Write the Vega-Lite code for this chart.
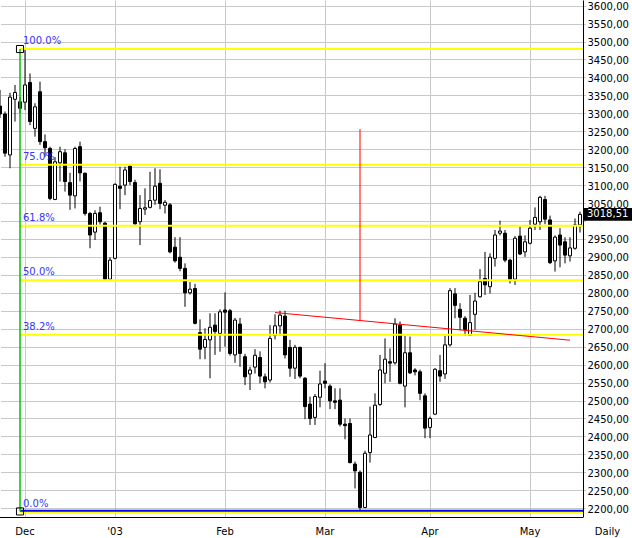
{
  "$schema": "https://vega.github.io/schema/vega-lite/v6.json",
  "width": 583,
  "height": 517,
  "autosize": {"type": "none"},
  "padding": {"left": 0, "top": 0, "right": 49, "bottom": 21},
  "background": "#ffffff",
  "config": {
    "view": {"stroke": null},
    "font": "DejaVu Sans",
    "axisY": {
      "tickCount": 29,
      "labelExpr": "datum.value == 3000 ? '' : replace(format(datum.value, '.2f'), '.', ',')",
      "labelOverlap": false,
      "labelFont": "DejaVu Sans",
      "labelFontSize": 10,
      "labelColor": "#000000",
      "labelPadding": 4,
      "labelOffset": 1,
      "ticks": false,
      "grid": true,
      "gridColor": "#c8c8c8",
      "gridWidth": 1,
      "domainColor": "#000000",
      "domainWidth": 1
    }
  },
  "datasets": {
    "ohlc": [
      {"d":"2002-11-25","o":3320,"h":3365,"l":3287,"c":3298},
      {"d":"2002-11-26","o":3298,"h":3305,"l":3179,"c":3189},
      {"d":"2002-11-27","o":3184,"h":3357,"l":3147,"c":3345},
      {"d":"2002-11-28","o":3339,"h":3379,"l":3277,"c":3358},
      {"d":"2002-11-29","o":3332,"h":3345,"l":3300,"c":3314},
      {"d":"2002-12-02","o":3331,"h":3479,"l":3309,"c":3379},
      {"d":"2002-12-03","o":3386,"h":3411,"l":3267,"c":3277},
      {"d":"2002-12-04","o":3258,"h":3328,"l":3235,"c":3318},
      {"d":"2002-12-05","o":3360,"h":3388,"l":3212,"c":3221},
      {"d":"2002-12-06","o":3221,"h":3241,"l":3179,"c":3204},
      {"d":"2002-12-09","o":3202,"h":3207,"l":3058,"c":3063},
      {"d":"2002-12-10","o":3060,"h":3178,"l":3058,"c":3165},
      {"d":"2002-12-11","o":3162,"h":3207,"l":3110,"c":3193},
      {"d":"2002-12-12","o":3190,"h":3200,"l":3082,"c":3110},
      {"d":"2002-12-13","o":3107,"h":3134,"l":3031,"c":3072},
      {"d":"2002-12-16","o":3070,"h":3207,"l":3035,"c":3202},
      {"d":"2002-12-17","o":3207,"h":3221,"l":3110,"c":3134},
      {"d":"2002-12-18","o":3133,"h":3135,"l":3015,"c":3021},
      {"d":"2002-12-19","o":3021,"h":3025,"l":2924,"c":2961},
      {"d":"2002-12-20","o":2969,"h":3030,"l":2947,"c":3021},
      {"d":"2002-12-23","o":3023,"h":3040,"l":2990,"c":2998},
      {"d":"2002-12-27","o":2994,"h":2998,"l":2835,"c":2838},
      {"d":"2002-12-30","o":2838,"h":2899,"l":2835,"c":2891},
      {"d":"2003-01-02","o":2896,"h":3105,"l":2893,"c":3102},
      {"d":"2003-01-03","o":3097,"h":3151,"l":3033,"c":3091},
      {"d":"2003-01-06","o":3100,"h":3151,"l":3072,"c":3142},
      {"d":"2003-01-07","o":3153,"h":3157,"l":3100,"c":3110},
      {"d":"2003-01-08","o":3107,"h":3115,"l":2990,"c":2992},
      {"d":"2003-01-09","o":2998,"h":3072,"l":2933,"c":3035},
      {"d":"2003-01-10","o":3033,"h":3091,"l":3017,"c":3037},
      {"d":"2003-01-13","o":3038,"h":3137,"l":3035,"c":3057},
      {"d":"2003-01-14","o":3058,"h":3147,"l":3045,"c":3097},
      {"d":"2003-01-15","o":3105,"h":3144,"l":3033,"c":3049},
      {"d":"2003-01-16","o":3044,"h":3058,"l":3021,"c":3052},
      {"d":"2003-01-17","o":3045,"h":3050,"l":2910,"c":2914},
      {"d":"2003-01-20","o":2927,"h":2955,"l":2884,"c":2889},
      {"d":"2003-01-21","o":2899,"h":2955,"l":2860,"c":2868},
      {"d":"2003-01-22","o":2868,"h":2882,"l":2761,"c":2800},
      {"d":"2003-01-23","o":2800,"h":2830,"l":2795,"c":2810},
      {"d":"2003-01-24","o":2812,"h":2825,"l":2712,"c":2715},
      {"d":"2003-01-27","o":2689,"h":2726,"l":2615,"c":2643},
      {"d":"2003-01-28","o":2648,"h":2701,"l":2615,"c":2670},
      {"d":"2003-01-29","o":2669,"h":2743,"l":2562,"c":2704},
      {"d":"2003-01-30","o":2710,"h":2743,"l":2627,"c":2692},
      {"d":"2003-01-31","o":2687,"h":2754,"l":2636,"c":2747},
      {"d":"2003-02-03","o":2752,"h":2801,"l":2650,"c":2746},
      {"d":"2003-02-04","o":2750,"h":2755,"l":2625,"c":2631},
      {"d":"2003-02-05","o":2627,"h":2730,"l":2605,"c":2724},
      {"d":"2003-02-06","o":2713,"h":2730,"l":2594,"c":2631},
      {"d":"2003-02-07","o":2622,"h":2630,"l":2543,"c":2566},
      {"d":"2003-02-10","o":2574,"h":2594,"l":2529,"c":2585},
      {"d":"2003-02-11","o":2593,"h":2643,"l":2575,"c":2626},
      {"d":"2003-02-12","o":2620,"h":2637,"l":2548,"c":2568},
      {"d":"2003-02-13","o":2566,"h":2575,"l":2534,"c":2552},
      {"d":"2003-02-14","o":2557,"h":2710,"l":2550,"c":2673},
      {"d":"2003-02-17","o":2681,"h":2740,"l":2670,"c":2708},
      {"d":"2003-02-18","o":2708,"h":2750,"l":2680,"c":2738},
      {"d":"2003-02-19","o":2735,"h":2750,"l":2617,"c":2627},
      {"d":"2003-02-20","o":2648,"h":2669,"l":2566,"c":2590},
      {"d":"2003-02-21","o":2590,"h":2655,"l":2560,"c":2648},
      {"d":"2003-02-24","o":2648,"h":2650,"l":2562,"c":2568},
      {"d":"2003-02-25","o":2562,"h":2565,"l":2448,"c":2483},
      {"d":"2003-02-26","o":2490,"h":2511,"l":2432,"c":2450},
      {"d":"2003-02-27","o":2453,"h":2518,"l":2432,"c":2511},
      {"d":"2003-02-28","o":2509,"h":2583,"l":2481,"c":2546},
      {"d":"2003-03-03","o":2554,"h":2604,"l":2534,"c":2548},
      {"d":"2003-03-04","o":2540,"h":2545,"l":2476,"c":2499},
      {"d":"2003-03-05","o":2499,"h":2534,"l":2476,"c":2495},
      {"d":"2003-03-06","o":2501,"h":2534,"l":2428,"c":2434},
      {"d":"2003-03-07","o":2434,"h":2450,"l":2392,"c":2430},
      {"d":"2003-03-10","o":2436,"h":2450,"l":2325,"c":2327},
      {"d":"2003-03-11","o":2323,"h":2330,"l":2255,"c":2304},
      {"d":"2003-03-12","o":2300,"h":2305,"l":2192,"c":2202},
      {"d":"2003-03-13","o":2202,"h":2360,"l":2200,"c":2353},
      {"d":"2003-03-14","o":2355,"h":2483,"l":2327,"c":2404},
      {"d":"2003-03-17","o":2397,"h":2520,"l":2395,"c":2487},
      {"d":"2003-03-18","o":2489,"h":2627,"l":2485,"c":2585},
      {"d":"2003-03-19","o":2576,"h":2673,"l":2548,"c":2615},
      {"d":"2003-03-20","o":2608,"h":2645,"l":2552,"c":2604},
      {"d":"2003-03-21","o":2605,"h":2729,"l":2600,"c":2713},
      {"d":"2003-03-24","o":2710,"h":2720,"l":2545,"c":2548},
      {"d":"2003-03-25","o":2540,"h":2680,"l":2481,"c":2633},
      {"d":"2003-03-26","o":2633,"h":2678,"l":2574,"c":2577},
      {"d":"2003-03-27","o":2585,"h":2590,"l":2570,"c":2580},
      {"d":"2003-03-28","o":2580,"h":2586,"l":2501,"c":2520},
      {"d":"2003-03-31","o":2513,"h":2520,"l":2395,"c":2423},
      {"d":"2003-04-01","o":2425,"h":2455,"l":2395,"c":2450},
      {"d":"2003-04-02","o":2462,"h":2590,"l":2460,"c":2587},
      {"d":"2003-04-03","o":2583,"h":2627,"l":2552,"c":2568},
      {"d":"2003-04-04","o":2574,"h":2680,"l":2560,"c":2655},
      {"d":"2003-04-07","o":2655,"h":2813,"l":2650,"c":2806},
      {"d":"2003-04-08","o":2797,"h":2813,"l":2729,"c":2765},
      {"d":"2003-04-09","o":2754,"h":2771,"l":2696,"c":2732},
      {"d":"2003-04-10","o":2729,"h":2735,"l":2680,"c":2698},
      {"d":"2003-04-11","o":2682,"h":2794,"l":2680,"c":2717},
      {"d":"2003-04-14","o":2740,"h":2800,"l":2697,"c":2777},
      {"d":"2003-04-15","o":2789,"h":2866,"l":2787,"c":2831},
      {"d":"2003-04-16","o":2840,"h":2914,"l":2794,"c":2822},
      {"d":"2003-04-17","o":2817,"h":2910,"l":2798,"c":2899},
      {"d":"2003-04-22","o":2896,"h":2975,"l":2873,"c":2961},
      {"d":"2003-04-23","o":2966,"h":3001,"l":2960,"c":2972},
      {"d":"2003-04-24","o":2966,"h":2975,"l":2885,"c":2891},
      {"d":"2003-04-25","o":2891,"h":2895,"l":2826,"c":2838},
      {"d":"2003-04-28","o":2838,"h":2958,"l":2822,"c":2952},
      {"d":"2003-04-29","o":2958,"h":2984,"l":2905,"c":2908},
      {"d":"2003-04-30","o":2914,"h":2960,"l":2900,"c":2942},
      {"d":"2003-05-02","o":2938,"h":3003,"l":2935,"c":2980},
      {"d":"2003-05-05","o":2991,"h":3038,"l":2975,"c":3010},
      {"d":"2003-05-06","o":2998,"h":3070,"l":2975,"c":3066},
      {"d":"2003-05-07","o":3060,"h":3070,"l":2991,"c":3005},
      {"d":"2003-05-08","o":3003,"h":3015,"l":2880,"c":2884},
      {"d":"2003-05-09","o":2889,"h":2960,"l":2859,"c":2955},
      {"d":"2003-05-12","o":2961,"h":2980,"l":2871,"c":2933},
      {"d":"2003-05-13","o":2942,"h":2955,"l":2882,"c":2905},
      {"d":"2003-05-14","o":2903,"h":2955,"l":2887,"c":2925},
      {"d":"2003-05-15","o":2924,"h":3007,"l":2920,"c":2989},
      {"d":"2003-05-16","o":2989,"h":3026,"l":2968,"c":3018.51}
    ],
    "fib": [
      {"lvl":"100.0%","v":3479},
      {"lvl":"75.0%","v":3157},
      {"lvl":"61.8%","v":2987},
      {"lvl":"50.0%","v":2835},
      {"lvl":"38.2%","v":2683},
      {"lvl":"0.0%","v":2189}
    ],
    "anchors": [{"v":3479},{"v":2191}],
    "trend": [{"d":"2003-02-17","v":2745},{"d":"2003-05-14","v":2668}],
    "last": [{"d":"2003-05-16","v":3018.51,"t":"3018,51"}]
  },
  "encoding": {
    "x": {
      "field": "d",
      "type": "ordinal",
      "scale": {"type": "band", "range": [-2.5, 582.5], "paddingInner": 0, "paddingOuter": 0},
      "axis": {
        "values": ["2002-12-02","2003-01-02","2003-02-03","2003-03-03","2003-04-01","2003-05-02"],
        "labelExpr": "datum.value == '2002-12-02' ? 'Dec' : datum.value == '2003-01-02' ? \"'03\" : datum.value == '2003-02-03' ? 'Feb' : datum.value == '2003-03-03' ? 'Mar' : datum.value == '2003-04-01' ? 'Apr' : 'May'",
        "bandPosition": 0.5,
        "labelAngle": 0,
        "labelFont": "DejaVu Sans",
        "labelFontSize": 10,
        "labelColor": "#000000",
        "labelPadding": 9,
        "labelOverlap": false,
        "ticks": false,
        "grid": true,
        "gridColor": "#c8c8c8",
        "gridWidth": 1,
        "domainColor": "#000000",
        "domainWidth": 1,
        "title": "Daily",
        "titleFont": "DejaVu Sans",
        "titleFontSize": 10,
        "titleFontWeight": "normal",
        "titleColor": "#000000",
        "titleX": 607,
        "titleY": 14,
        "titleAlign": "center",
        "titleBaseline": "middle"
      }
    }
  },
  "layer": [
    {
      "data": {"name": "ohlc"},
      "mark": {"type": "rule", "color": "#000000", "strokeWidth": 1},
      "encoding": {
        "y": {
          "field": "l",
          "type": "quantitative",
          "scale": {"domain": [2175.5, 3615.6], "nice": false, "zero": false},
          "axis": {"orient": "right", "title": null}
        },
        "y2": {"field": "h"}
      }
    },
    {
      "data": {"name": "ohlc"},
      "mark": {"type": "bar", "size": 3, "stroke": "#000000", "strokeWidth": 1},
      "encoding": {
        "y": {"field": "o", "type": "quantitative", "axis": {"orient": "right", "title": null}},
        "y2": {"field": "c"},
        "fill": {"condition": {"test": "datum.c > datum.o", "value": "#ffffff"}, "value": "#000000"}
      }
    },
    {
      "data": {"name": "fib"},
      "mark": {"type": "rule", "color": "#ffff00", "strokeWidth": 2},
      "encoding": {
        "x": {"datum": "2002-11-29"},
        "x2": {"value": "width"},
        "y": {"field": "v", "type": "quantitative", "axis": {"orient": "right", "title": null}}
      }
    },
    {
      "data": {"name": "anchors"},
      "transform": [{"filter": "datum.v < 2500"}],
      "mark": {"type": "rule", "color": "#0000ff", "strokeWidth": 2},
      "encoding": {
        "x": {"datum": "2002-11-29"},
        "x2": {"value": "width"},
        "y": {"datum": 2193, "axis": {"orient": "right", "title": null}}
      }
    },
    {
      "data": {"values": [{}]},
      "mark": {"type": "rule", "color": "#00c000", "strokeWidth": 1.5},
      "encoding": {
        "x": {"datum": "2002-11-29"},
        "y": {"datum": 3479, "axis": {"orient": "right", "title": null}},
        "y2": {"datum": 2191}
      }
    },
    {
      "data": {"name": "anchors"},
      "mark": {"type": "point", "shape": "square", "size": 50, "filled": false, "stroke": "#000000", "strokeWidth": 1, "opacity": 1},
      "encoding": {
        "x": {"datum": "2002-11-29"},
        "y": {"field": "v", "type": "quantitative", "axis": {"orient": "right", "title": null}}
      }
    },
    {
      "data": {"name": "fib"},
      "mark": {"type": "text", "align": "left", "baseline": "bottom", "dx": 3, "dy": -3, "font": "DejaVu Sans", "fontSize": 10, "color": "#3535ff"},
      "encoding": {
        "x": {"datum": "2002-11-29"},
        "y": {"field": "v", "type": "quantitative", "axis": {"orient": "right", "title": null}},
        "text": {"field": "lvl"}
      }
    },
    {
      "data": {"name": "trend"},
      "mark": {"type": "line", "color": "#ff0000", "strokeWidth": 1},
      "encoding": {
        "x": {"field": "d", "type": "ordinal"},
        "y": {"field": "v", "type": "quantitative", "axis": {"orient": "right", "title": null}}
      }
    },
    {
      "data": {"values": [{}]},
      "mark": {"type": "rule", "color": "#ff0000", "strokeWidth": 1},
      "encoding": {
        "x": {"datum": "2003-03-12"},
        "y": {"datum": 3256, "axis": {"orient": "right", "title": null}},
        "y2": {"datum": 2724}
      }
    },
    {
      "data": {"name": "last"},
      "mark": {"type": "point", "shape": "M-1,-0.27L1,-0.27L1,0.27L-1,0.27Z", "size": 2304, "filled": true, "color": "#000000", "opacity": 1, "xOffset": 28},
      "encoding": {
        "x": {"field": "d", "type": "ordinal"},
        "y": {"field": "v", "type": "quantitative", "axis": {"orient": "right", "title": null}}
      }
    },
    {
      "data": {"name": "last"},
      "mark": {"type": "text", "align": "left", "baseline": "middle", "dx": 7, "font": "DejaVu Sans", "fontSize": 10, "color": "#ffffff"},
      "encoding": {
        "x": {"field": "d", "type": "ordinal"},
        "y": {"field": "v", "type": "quantitative", "axis": {"orient": "right", "title": null}},
        "text": {"field": "t"}
      }
    }
  ]
}
